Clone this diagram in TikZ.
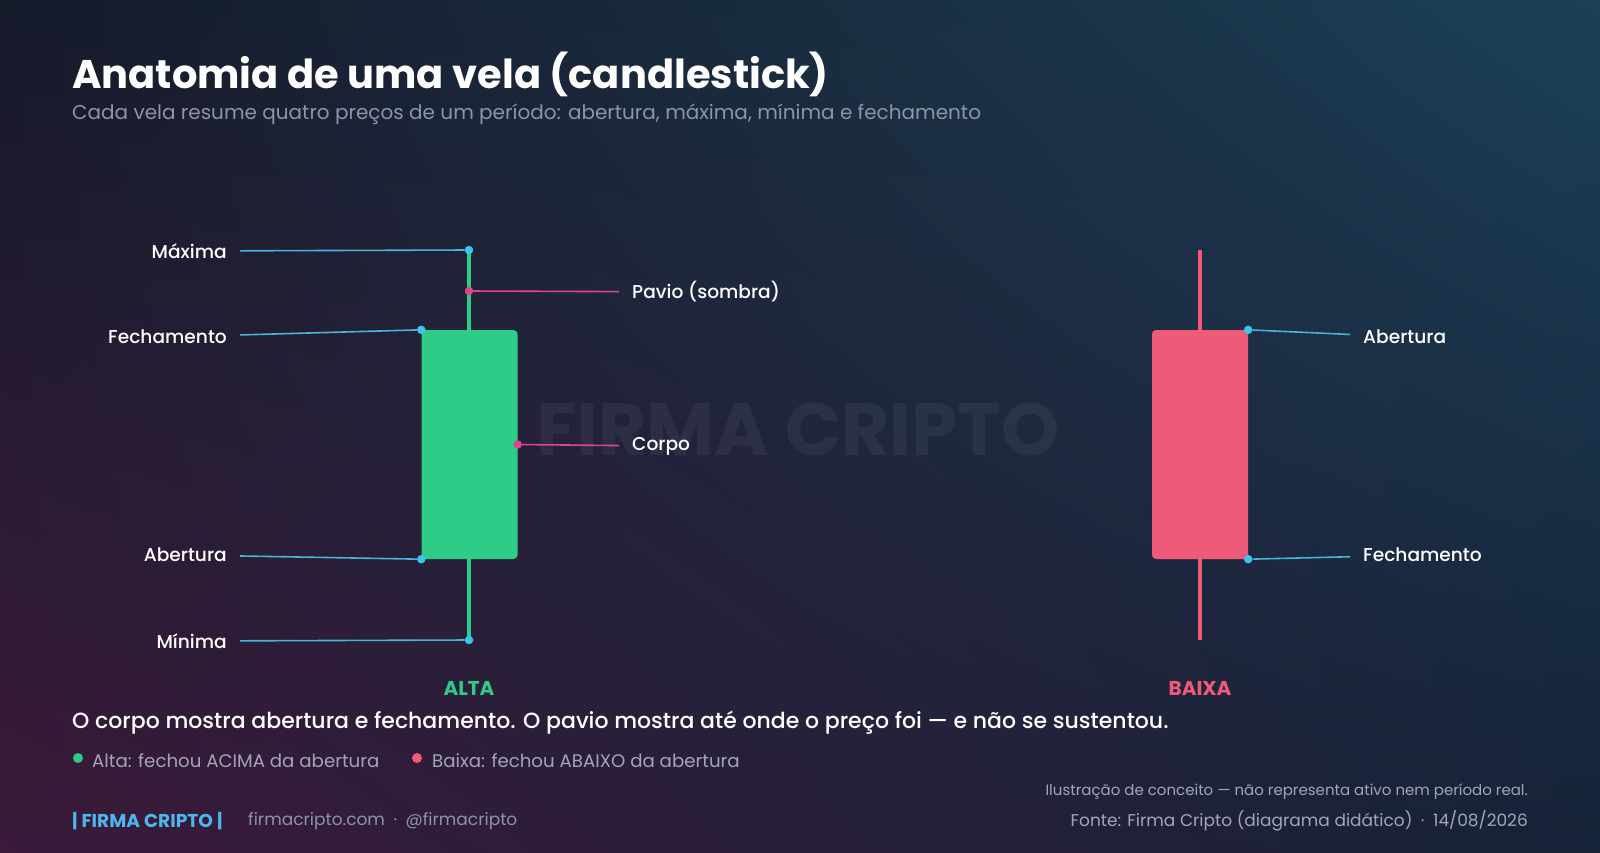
\documentclass[tikz,border=0pt]{standalone}
\usepackage{fontspec}
\setmainfont{Poppins}
\newfontfamily\popmed{Poppins Medium}
\usetikzlibrary{positioning,calc,shadings}
\definecolor{bgTL}{HTML}{151A29}
\definecolor{bgTR}{HTML}{1C4057}
\definecolor{bgBL}{HTML}{3B1A3A}
\definecolor{bgBR}{HTML}{152238}
\definecolor{altaGreen}{HTML}{2ECC87}
\definecolor{baixaRed}{HTML}{EF5A78}
\definecolor{leadBlue}{HTML}{4AB4D8}
\definecolor{dotBlue}{HTML}{3CC4EC}
\definecolor{leadPink}{HTML}{E0458C}
\definecolor{subGrey}{HTML}{8C94A8}
\definecolor{legGrey}{HTML}{A3A5B8}
\definecolor{footBlue}{HTML}{4CB6EE}
\newcommand{\fs}[1]{\fontsize{#1}{#1}\selectfont}

\begin{document}
\begin{tikzpicture}[x=1pt, y=-1pt,
  lbl/.style={text=white, font=\popmed\fs{18.6}, inner xsep=13pt, inner ysep=0pt},
  lead/.style={leadBlue, line width=1.6pt},
  pavlead/.style={leadPink, line width=1.6pt},
  ldot/.style={circle, fill=dotBlue, inner sep=0pt, minimum size=8.5pt},
  pdot/.style={ldot, fill=leadPink},
  corpo/.style={rounded corners=4pt, inner sep=0pt, minimum width=96pt, minimum height=229pt}]
   \shade[upper left=bgTL, upper right=bgTR, lower left=bgBL, lower right=bgBR] (0,0) rectangle (1600,853);
   \useasboundingbox (0,0) rectangle (1600,853);
   \node[font=\bfseries\fs{74}, text=white, text opacity=0.05] (marca) at (798,429) {FIRMA CRIPTO};

   % titulo
   \node[anchor=base west, inner sep=0pt, font=\bfseries\fs{40}, text=white] (titulo) at (72,89) {Anatomia de uma vela (candlestick)};
   \node[anchor=base west, inner sep=0pt, font=\fs{20}, text=subGrey] (sub) at (72,120) {Cada vela resume quatro preços de um período: abertura, máxima, mínima e fechamento};

   % vela de alta
   \coordinate (topoA) at (469,250);
   \coordinate (baseA) at (469,640);
   \draw[altaGreen, line width=4pt] (topoA) -- (baseA);
   \node[corpo, fill=altaGreen] (corpoA) at (469.5,444.5) {};
   \node[ldot] (maxA) at (topoA) {};
   \node[ldot] (minA) at (baseA) {};
   \node[ldot] (fechA) at (corpoA.north west) {};
   \node[ldot] (abeA) at (corpoA.south west) {};
   \node[pdot] (pavA) at (469,291) {};
   \node[pdot] (corA) at (corpoA.east) {};

   \node[lbl, anchor=east] (lmax) at (240,251) {Máxima};
   \node[lbl, anchor=east] (lfechA) at (240,337) {Fechamento};
   \node[lbl, anchor=east] (labeA) at (240,555) {Abertura};
   \node[lbl, anchor=east] (lmin) at (240,641) {Mínima};
   \node[lbl, anchor=west] (lpav) at (619,292) {Pavio (sombra)};
   \node[lbl, anchor=west] (lcor) at (619,446) {Corpo};

   \draw[lead] (lmax) -- (maxA);
   \draw[lead] (lfechA) -- (fechA);
   \draw[lead] (labeA) -- (abeA);
   \draw[lead] (lmin) -- (minA);
   \draw[pavlead] (pavA) -- (lpav);
   \draw[pavlead] (corA) -- (lcor);

   % vela de baixa
   \coordinate (maxB) at (1200,250);
   \coordinate (minB) at (1200,640);
   \draw[baixaRed, line width=4pt] (maxB) -- (minB);
   \node[corpo, fill=baixaRed] (corpoB) at (1200,444.5) {};
   \node[ldot] (abeB) at (corpoB.north east) {};
   \node[ldot] (fechB) at (corpoB.south east) {};
   \node[lbl, anchor=west] (labeB) at (1350,337) {Abertura};
   \node[lbl, anchor=west] (lfechB) at (1350,555) {Fechamento};
   \draw[lead] (abeB) -- (labeB);
   \draw[lead] (fechB) -- (lfechB);

   \node[font=\bfseries\fs{20}, text=altaGreen] (alta) at (469,688) {ALTA};
   \node[font=\bfseries\fs{20}, text=baixaRed] (baixa) at (1200,688) {BAIXA};

   % rodape
   \node[anchor=west, inner sep=0pt, font=\popmed\fs{22}, text=white] (frase) at (72,723) {O corpo mostra abertura e fechamento. O pavio mostra até onde o preço foi — e não se sustentou.};
   \fill[altaGreen] (78,758) circle (5pt);
   \node[anchor=west, inner sep=0pt, font=\fs{18.2}, text=legGrey] (legA) at (92,761) {Alta: fechou ACIMA da abertura};
   \fill[baixaRed] (417,758) circle (5pt);
   \node[anchor=west, inner sep=0pt, font=\fs{18.2}, text=legGrey] (legB) at (432,761) {Baixa: fechou ABAIXO da abertura};
   \node[anchor=west, inner sep=0pt, font=\bfseries\fs{18.6}, text=footBlue] (marca2) at (72,821) {| FIRMA CRIPTO |};
   \node[anchor=west, inner sep=0pt, font=\fs{17}, text=subGrey] (site) at (248,821) {firmacripto.com\enspace·\enspace @firmacripto};
   \node[anchor=east, inner sep=0pt, font=\fs{15}, text=legGrey] (aviso) at (1528,792) {Ilustração de conceito — não representa ativo nem período real.};
   \node[anchor=east, inner sep=0pt, font=\fs{17}, text=legGrey] (fonte) at (1528,821) {Fonte: Firma Cripto (diagrama didático)\enspace·\enspace 14/08/2026};
\end{tikzpicture}
\end{document}
